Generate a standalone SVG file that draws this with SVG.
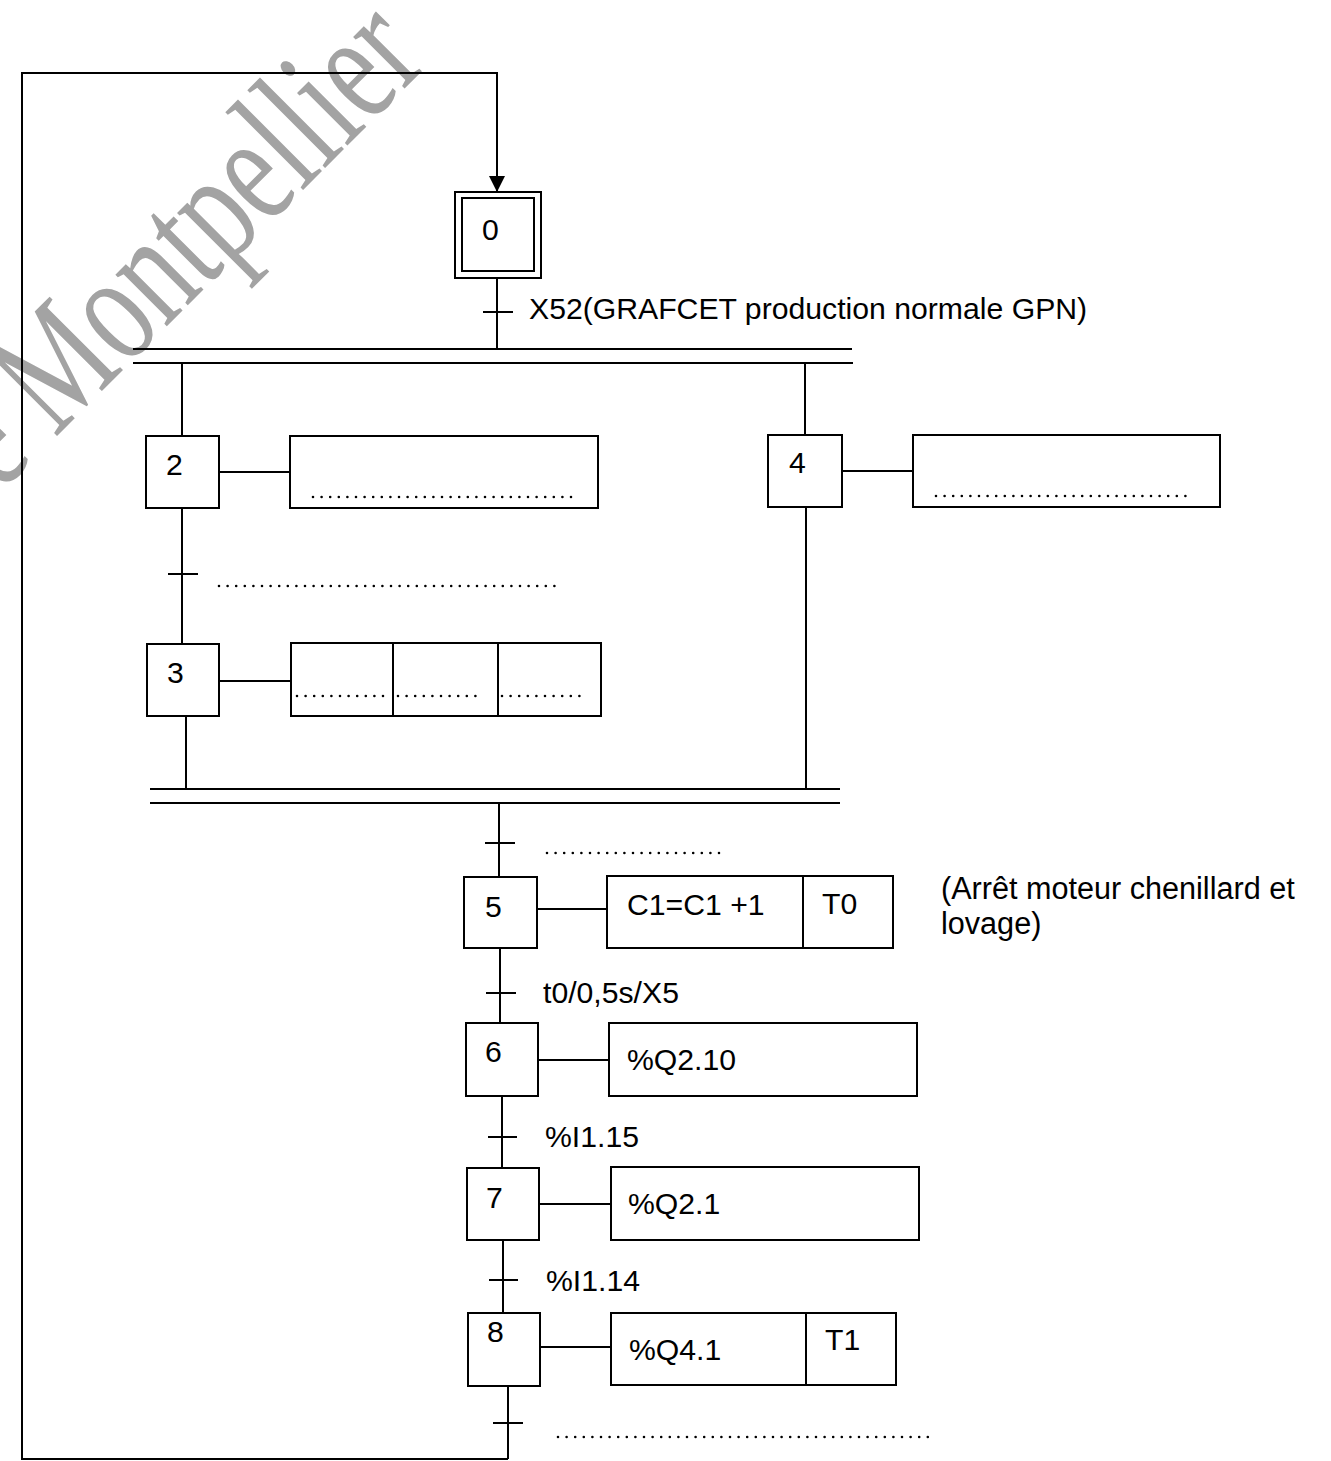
<svg xmlns="http://www.w3.org/2000/svg" width="1331" height="1461" viewBox="0 0 1331 1461">
<style>
.ln{stroke:#000;stroke-width:2;fill:none}
.bx{stroke:#000;stroke-width:2;fill:#fff}
.dt{stroke:#000;stroke-width:2.6;stroke-dasharray:0 8.6;stroke-linecap:round;fill:none}
.t{font-family:"Liberation Sans",Arial,sans-serif;font-size:30.2px;fill:#000}
.wm{font-family:"Liberation Serif","Times New Roman",serif;font-size:132px;fill:#a3a3a3}
</style>
<defs>
<marker id="arr" viewBox="0 0 16 16" refX="16" refY="8" markerWidth="16" markerHeight="16" markerUnits="userSpaceOnUse" orient="auto">
<path d="M0 0 L16 8 L0 16 Z" fill="#000"/>
</marker>
</defs>
<rect width="1331" height="1461" fill="#fff"/>
<g id="watermark" transform="translate(55,438) rotate(-45) scale(0.85,1.2)">
<text class="wm" x="-92" y="0">e Montpellier</text>
</g>
<g id="connectors">
<path class="ln" d="M508 1459 L22 1459 L22 73 L497 73 L497 192" marker-end="url(#arr)"/>
<line class="ln" x1="497" y1="278" x2="497" y2="349"/>
<line class="ln" x1="483" y1="312" x2="513" y2="312"/>
<line class="ln" x1="133" y1="349" x2="852" y2="349"/>
<line class="ln" x1="133" y1="363" x2="853" y2="363"/>
<line class="ln" x1="182" y1="363" x2="182" y2="436"/>
<line class="ln" x1="805" y1="363" x2="805" y2="435"/>
<line class="ln" x1="182" y1="508" x2="182" y2="644"/>
<line class="ln" x1="168" y1="574" x2="198" y2="574"/>
<line class="ln" x1="186" y1="716" x2="186" y2="789"/>
<line class="ln" x1="806" y1="507" x2="806" y2="789"/>
<line class="ln" x1="150" y1="789" x2="840" y2="789"/>
<line class="ln" x1="150" y1="803" x2="840" y2="803"/>
<line class="ln" x1="499" y1="803" x2="499" y2="877"/>
<line class="ln" x1="485" y1="843" x2="515" y2="843"/>
<line class="ln" x1="500" y1="948" x2="500" y2="1023"/>
<line class="ln" x1="486" y1="993" x2="516" y2="993"/>
<line class="ln" x1="502" y1="1096" x2="502" y2="1168"/>
<line class="ln" x1="488" y1="1137" x2="517" y2="1137"/>
<line class="ln" x1="503" y1="1240" x2="503" y2="1313"/>
<line class="ln" x1="489" y1="1280" x2="518" y2="1280"/>
<line class="ln" x1="508" y1="1386" x2="508" y2="1459"/>
<line class="ln" x1="493" y1="1423" x2="523" y2="1423"/>
<line class="ln" x1="219" y1="472" x2="290" y2="472"/>
<line class="ln" x1="219" y1="681" x2="291" y2="681"/>
<line class="ln" x1="842" y1="471" x2="913" y2="471"/>
<line class="ln" x1="537" y1="909" x2="607" y2="909"/>
<line class="ln" x1="538" y1="1060" x2="609" y2="1060"/>
<line class="ln" x1="539" y1="1204" x2="611" y2="1204"/>
<line class="ln" x1="540" y1="1347" x2="611" y2="1347"/>
</g>
<g id="transition-labels">
<text class="t" x="529" y="319">X52(GRAFCET production normale GPN)</text>
<line class="dt" x1="219" y1="586" x2="560" y2="586"/>
<line class="dt" x1="547" y1="853" x2="727" y2="853"/>
<text class="t" x="543" y="1003">t0/0,5s/X5</text>
<text class="t" x="545" y="1147">%I1.15</text>
<text class="t" x="546" y="1291">%I1.14</text>
<line class="dt" x1="558" y1="1437" x2="932" y2="1437"/>
</g>
<g id="step0">
<rect class="bx" x="455" y="192" width="86" height="86"/>
<rect class="bx" x="462" y="198" width="72" height="73"/>
<text class="t" x="482" y="240">0</text>
</g>
<g id="step2">
<rect class="bx" x="146" y="436" width="73" height="72"/>
<text class="t" x="166" y="475">2</text>
</g>
<g id="action2">
<rect class="bx" x="290" y="436" width="308" height="72"/>
<line class="dt" x1="313" y1="497" x2="572" y2="497"/>
</g>
<g id="step3">
<rect class="bx" x="147" y="644" width="72" height="72"/>
<text class="t" x="167" y="683">3</text>
</g>
<g id="action3">
<rect class="bx" x="291" y="643" width="310" height="73"/>
<line class="ln" x1="393" y1="643" x2="393" y2="716"/>
<line class="ln" x1="498" y1="643" x2="498" y2="716"/>
<line class="dt" x1="297" y1="696" x2="391" y2="696"/>
<line class="dt" x1="398" y1="696" x2="483" y2="696"/>
<line class="dt" x1="502" y1="696" x2="586" y2="696"/>
</g>
<g id="step4">
<rect class="bx" x="768" y="435" width="74" height="72"/>
<text class="t" x="789" y="473">4</text>
</g>
<g id="action4">
<rect class="bx" x="913" y="435" width="307" height="72"/>
<line class="dt" x1="936" y1="496" x2="1188" y2="496"/>
</g>
<g id="step5">
<rect class="bx" x="464" y="877" width="73" height="71"/>
<text class="t" x="485" y="917">5</text>
</g>
<g id="action5">
<rect class="bx" x="607" y="876" width="286" height="72"/>
<line class="ln" x1="803" y1="876" x2="803" y2="948"/>
<text class="t" x="627" y="915">C1=C1 +1</text>
<text class="t" x="822" y="914">T0</text>
</g>
<g id="comment5">
<text class="t" x="941" y="899" style="font-size:30.6px">(Arrêt moteur chenillard et</text>
<text class="t" x="941" y="934" style="font-size:30.6px">lovage)</text>
</g>
<g id="step6">
<rect class="bx" x="466" y="1023" width="72" height="73"/>
<text class="t" x="485" y="1062">6</text>
</g>
<g id="action6">
<rect class="bx" x="609" y="1023" width="308" height="73"/>
<text class="t" x="627" y="1070">%Q2.10</text>
</g>
<g id="step7">
<rect class="bx" x="467" y="1168" width="72" height="72"/>
<text class="t" x="486" y="1208">7</text>
</g>
<g id="action7">
<rect class="bx" x="611" y="1167" width="308" height="73"/>
<text class="t" x="628" y="1214">%Q2.1</text>
</g>
<g id="step8">
<rect class="bx" x="468" y="1313" width="72" height="73"/>
<text class="t" x="487" y="1342">8</text>
</g>
<g id="action8">
<rect class="bx" x="611" y="1313" width="285" height="72"/>
<line class="ln" x1="806" y1="1313" x2="806" y2="1385"/>
<text class="t" x="629" y="1360">%Q4.1</text>
<text class="t" x="825" y="1350">T1</text>
</g>
</svg>
